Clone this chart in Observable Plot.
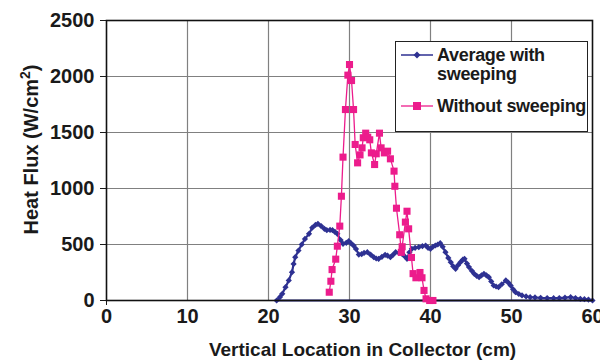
<!DOCTYPE html>
<html><head><meta charset="utf-8">
<script src="https://cdn.jsdelivr.net/npm/d3@7"></script>
<script src="https://cdn.jsdelivr.net/npm/@observablehq/plot@0.6"></script>
<style>
body{margin:0;background:#fff;}
#wrap{position:relative;width:600px;height:364px;font-family:"Liberation Sans",Arial,sans-serif;font-weight:bold;}
#legend{position:absolute;left:395px;top:41px;}
</style></head><body><div id="wrap"></div>
<script>
// Average with sweeping (x in cm, heat flux in W/cm^2)
const sweepX = [21.0,21.4,21.7,22.1,22.5,22.9,23.1,23.3,23.7,24.1,24.5,25.0,25.4,25.8,26.1,26.5,26.9,27.2,27.6,27.9,28.2,28.5,28.9,29.2,29.6,29.9,30.2,30.5,30.8,31.15,31.5,31.8,32.2,32.6,33.0,33.3,33.6,34.0,34.4,34.7,35.05,35.4,35.7,36.1,36.5,36.8,37.1,37.4,37.7,38.1,38.55,39.0,39.4,39.7,40.0,40.3,40.6,40.9,41.2,41.5,41.85,42.2,42.5,42.8,43.1,43.4,43.7,44.0,44.2,44.5,44.75,45.1,45.4,45.7,46.0,46.3,46.6,46.9,47.2,47.5,47.8,48.1,48.4,48.8,49.3,49.6,49.9,50.2,50.5,50.9,51.3,51.8,52.3,52.9,53.6,54.4,55.2,55.9,56.6,57.3,57.9,58.5,59.0,59.5,60.0];
const sweepY = [0,30,60,119,179,253,327,387,446,500,550,595,650,675,685,665,640,628,630,628,612,595,540,506,515,530,510,490,460,410,415,425,431,410,387,375,372,390,408,400,387,410,431,425,417,395,372,430,461,470,476,485,491,470,461,480,491,500,512,480,431,380,342,305,283,315,342,365,372,330,298,265,238,220,208,225,238,225,208,170,134,125,119,145,179,160,134,100,74,58,45,36,30,27,24,22,21,22,25,30,22,15,12,8,0];
const sweepBaseX = [21, 60];
// Without sweeping
const noSweepX = [27.5,27.7,27.85,28.3,28.5,28.8,29.0,29.2,29.5,29.8,30.0,30.25,30.5,30.7,31.0,31.3,31.55,31.7,32.0,32.25,32.5,32.7,33.1,33.3,33.7,33.9,34.3,34.7,35.05,35.5,35.6,35.8,36.2,36.4,36.5,36.9,37.1,37.3,37.65,37.85,38.2,38.7,38.95,39.2,39.45,39.9,40.3];
const noSweepY = [74,172,276,369,485,664,931,1280,1705,2012,2107,1964,1705,1393,1229,1300,1363,1453,1494,1458,1435,1318,1214,1310,1494,1363,1318,1333,1265,1155,1020,824,587,430,480,700,797,640,384,240,203,250,203,90,15,0,0];
const xTicks = [0,10,20,30,40,50,60];
const yTicks = [0,500,1000,1500,2000,2500];
const xGrid = [10,20,30,40,50];
const yGrid = [500,1000,1500,2000];
const seriesNames = ["Average with sweeping","Without sweeping"];
const xTitle = "Vertical Location in Collector (cm)";
const yTitle = "Heat Flux (W/cm²)";
const colors = ["#2e3192","#ec1c8c"];

const sweep = sweepX.map((x,i)=>({x, y: sweepY[i]}));
const noSweep = noSweepX.map((x,i)=>({x, y: noSweepY[i]}));

const plot = Plot.plot({
  width: 600, height: 364,
  marginLeft: 106, marginRight: 8, marginTop: 20, marginBottom: 64,
  style: {fontFamily: '"Liberation Sans", Arial, sans-serif', fontWeight: "bold", fontSize: "19px", color: "#1a1a1a", background: "#fff"},
  x: {domain: [0, 60]},
  y: {domain: [0, 2500]},
  marks: [
    Plot.ruleX(xGrid, {stroke: "#808080", strokeWidth: 1.2}),
    Plot.ruleY(yGrid, {stroke: "#808080", strokeWidth: 1.2}),
    Plot.axisY({ticks: yTicks, tickSize: 6, tickPadding: 6, fontSize: 20, tickFormat: d => String(d), label: null}),
    Plot.axisX({ticks: xTicks, tickSize: 0, tickPadding: 8, fontSize: 20, tickFormat: d => String(d), label: null}),
    Plot.axisX({ticks: [0], tickSize: 5, tickFormat: () => "", label: null}),
    Plot.text([xTitle], {frameAnchor: "bottom", text: d => d, textAnchor: "middle", dx: 13, dy: 49, lineAnchor: "middle", fontSize: 19, fill: "#1a1a1a"}),
    Plot.text([yTitle], {frameAnchor: "left", text: d => d, textAnchor: "middle", rotate: -90, dx: -75, dy: -11, lineAnchor: "middle", fontSize: 20, fill: "#1a1a1a", className: "ytitle"}),
    Plot.ruleY(sweepBaseX.slice(0,1), {y: () => 0, x1: sweepBaseX[0], x2: sweepBaseX[1], stroke: colors[0], strokeWidth: 2}),
    Plot.line(sweep, {x: "x", y: "y", stroke: colors[0], strokeWidth: 2.2}),
    Plot.dot(sweep, {x: "x", y: "y", symbol: "diamond2", r: 2.8, fill: colors[0]}),
    Plot.frame({stroke: "#111", strokeWidth: 1.6}),
    Plot.line(noSweep, {x: "x", y: "y", stroke: colors[1], strokeWidth: 1.3}),
    Plot.dot(noSweep, {x: "x", y: "y", symbol: "square", r: 4, fill: colors[1]})
  ]
});
// real superscript for the unit
const yt = plot.querySelector(".ytitle text");
if (yt) {
  yt.textContent = "";
  yt.setAttribute("text-anchor", "middle");
  const ns0 = "http://www.w3.org/2000/svg";
  const a = document.createElementNS(ns0, "tspan"); a.textContent = "Heat Flux (W/cm";
  const b = document.createElementNS(ns0, "tspan"); b.textContent = "2"; b.setAttribute("font-size", "14"); b.setAttribute("dy", "-8");
  const c = document.createElementNS(ns0, "tspan"); c.textContent = ")"; c.setAttribute("dy", "8");
  yt.append(a, b, c);
}
const wrap = document.getElementById("wrap");
wrap.appendChild(plot);

// legend
const ns = "http://www.w3.org/2000/svg";
const lg = document.createElementNS(ns, "svg");
lg.setAttribute("id", "legend");
lg.setAttribute("width", 193); lg.setAttribute("height", 91);
lg.innerHTML = `
<rect x="0.5" y="0.5" width="192" height="90" fill="#fff" stroke="#222" stroke-width="1"/>
<line x1="6" x2="38" y1="14" y2="14" stroke="${colors[0]}" stroke-width="1.5"/>
<path d="M22,10.5L25.5,14L22,17.5L18.5,14Z" fill="${colors[0]}"/>
<line x1="6" x2="38" y1="65" y2="65" stroke="${colors[1]}" stroke-width="1.3"/>
<rect x="18" y="61" width="8" height="8" fill="${colors[1]}"/>
<g font-family='"Liberation Sans", Arial, sans-serif' font-weight="bold" font-size="18" fill="#1a1a1a" letter-spacing="-0.3">
<text x="42" y="20">Average with</text>
<text x="42" y="39">sweeping</text>
<text x="42" y="71">${seriesNames[1]}</text>
</g>`;
wrap.appendChild(lg);
</script></body></html>
